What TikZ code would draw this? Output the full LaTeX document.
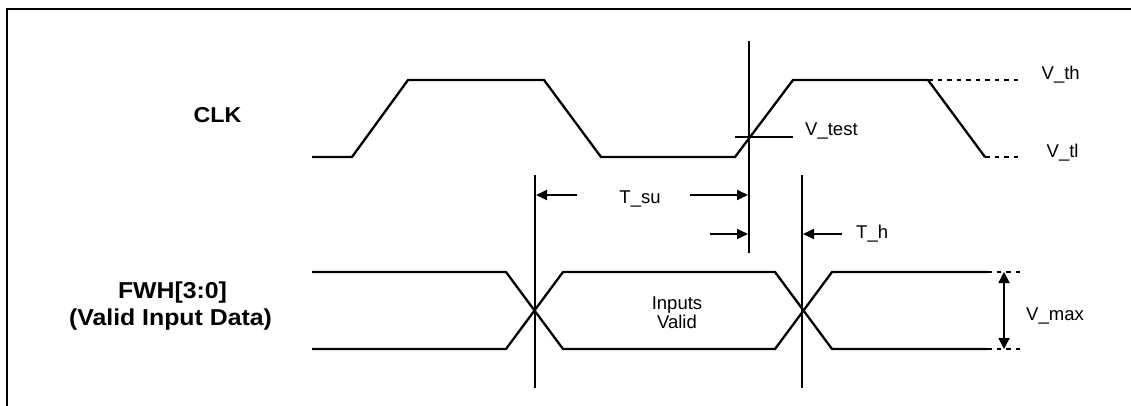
\documentclass[tikz,border=0pt]{standalone}
\usepackage{fontspec}
\setmainfont{Liberation Sans}
\newfontfamily\boldlbl{Liberation Sans}[FakeStretch=1.08]
\usetikzlibrary{arrows.meta}
\begin{document}
\begin{tikzpicture}[x=1pt,y=-1pt,
  wave/.style={line width=2.3pt,line join=miter},
  vline/.style={line width=2.2pt},
  dotline/.style={line width=2.2pt,dash pattern=on 4.5pt off 5pt},
  dimarrow/.style={line width=1.8pt,-{Triangle[length=11pt,width=10pt]}},
  lbl/.style={inner sep=0pt,font=\fontsize{18.5}{19.5}\selectfont},
  biglbl/.style={inner sep=0pt,anchor=base,font=\boldlbl\bfseries\fontsize{23}{27}\selectfont}]
\useasboundingbox (0,0) rectangle (1131,406);
% frame
\draw[line width=2.8pt] (7,407) -- (7,9) -- (1132,9);
% signal names
\node[biglbl,font=\boldlbl\bfseries\fontsize{21.5}{25}\selectfont] (clk) at (217.5,122.7) {CLK};
\node[biglbl] (fwh) at (172.5,298.3) {FWH[3:0]};
\node[biglbl] (fwhb) at (170.5,325) {(Valid Input Data)};
% CLK waveform
\coordinate (c0) at (312,157);
\coordinate (c1) at (352,157);
\coordinate (c2) at (408,80);
\coordinate (c3) at (544,80);
\coordinate (c4) at (601,157);
\coordinate (c5) at (735,157);
\coordinate (c6) at (793,80);
\coordinate (c7) at (928,80);
\coordinate (c8) at (985,157);
\draw[wave] (c0) -- (c1) -- (c2) -- (c3) -- (c4) -- (c5) -- (c6) -- (c7) -- (c8);
\coordinate (thend) at (1023,80);
\coordinate (tlend) at (1019,157);
\draw[dotline] (c7) -- (thend);
\draw[dotline] (c8) -- (tlend);
\node[lbl,anchor=base west] (vth) at (1041.5,80) {V\_th};
\node[lbl,anchor=base west] (vtl) at (1046.5,157.3) {V\_tl};
% V_test
\coordinate (vt0) at (735,137);
\coordinate (vt1) at (793,137);
\draw[vline] (vt0) -- (vt1);
\node[lbl,anchor=base west] (vtest) at (805,136) {V\_test};
% vertical reference lines
\coordinate (clkt) at (749,41);
\coordinate (clkb) at (749,253);
\draw[vline] (clkt) -- (clkb);
\coordinate (sut) at (535,175);
\coordinate (sub) at (535,388);
\draw[vline] (sut) -- (sub);
\coordinate (ht) at (802,175);
\coordinate (hb) at (802,388);
\draw[vline] (ht) -- (hb);
% T_su
\coordinate (su1) at (577,195);
\coordinate (su1e) at (536,195);
\coordinate (su2) at (690,195);
\coordinate (su2e) at (748,195);
\draw[dimarrow] (su1) -- (su1e);
\draw[dimarrow] (su2) -- (su2e);
\node[lbl,anchor=base] (tsu) at (640,203) {T\_su};
% T_h
\coordinate (h1) at (710,234);
\coordinate (h1e) at (748,234);
\coordinate (h2) at (842,234);
\coordinate (h2e) at (803,234);
\draw[dimarrow] (h1) -- (h1e);
\draw[dimarrow] (h2) -- (h2e);
\node[lbl,anchor=base west] (th) at (856,238) {T\_h};
% FWH bus
\coordinate (b0t) at (312,272); \coordinate (b0b) at (312,349);
\coordinate (b1t) at (506,272); \coordinate (b1b) at (506,349);
\coordinate (b2t) at (563,272); \coordinate (b2b) at (563,349);
\coordinate (b3t) at (775,272); \coordinate (b3b) at (775,349);
\coordinate (b4t) at (832,272); \coordinate (b4b) at (832,349);
\coordinate (b5t) at (987,272); \coordinate (b5b) at (987,349);
\draw[wave] (b0t) -- (b1t) -- (b2b) -- (b3b) -- (b4t) -- (b5t);
\draw[wave] (b0b) -- (b1b) -- (b2t) -- (b3t) -- (b4b) -- (b5b);
\coordinate (d1) at (1020,272);
\coordinate (d2) at (1020,349);
\draw[dotline] (b5t) -- (d1);
\draw[dotline] (b5b) -- (d2);
\node[lbl,anchor=base] (inp) at (677,309) {Inputs};
\node[lbl,anchor=base] (val) at (677,328.3) {Valid};
% V_max
\coordinate (vm1) at (1004,272);
\coordinate (vm2) at (1004,349);
\draw[line width=1.8pt,{Triangle[length=11pt,width=11pt]}-{Triangle[length=11pt,width=11pt]}] (vm1) -- (vm2);
\node[lbl,anchor=base west] (vmax) at (1026,320) {V\_max};
\end{tikzpicture}
\end{document}
